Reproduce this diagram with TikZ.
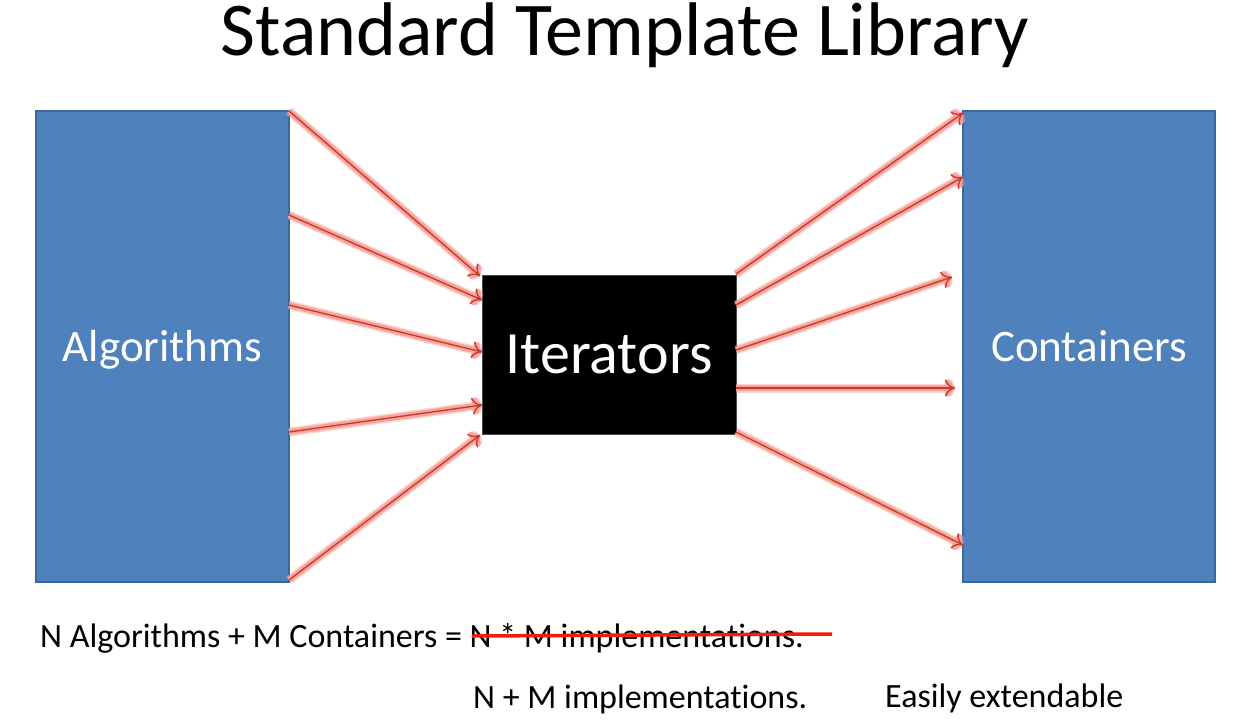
\documentclass[tikz,border=0pt]{standalone}
\usepackage{fontspec}
\setmainfont{Carlito}[Ligatures=NoCommon]
\usetikzlibrary{arrows.meta,calc}
\definecolor{boxblue}{HTML}{4F81BD}
\definecolor{boxedge}{HTML}{3A679C}
\definecolor{arrowred}{HTML}{C8372A}
\definecolor{glowred}{HTML}{F5A59C}
\definecolor{strikered}{HTML}{F01E0A}
\begin{document}
\begin{tikzpicture}[x=1pt,y=-1pt,
  box/.style={draw=boxedge, line width=2pt, fill=boxblue, inner sep=0pt, outer sep=0pt,
    text=white, font=\fontsize{45}{54}\selectfont, text height=29pt, text depth=0pt},
  itbox/.style={draw=black!70, line width=0.8pt, fill=black, inner sep=0pt, outer sep=0pt,
    text=white, font=\fontsize{60}{72}\selectfont, text height=38.6pt, text depth=0pt},
  flow/.style={draw=arrowred, line width=1.3pt, -{To[length=10pt,width=17pt]},
    preaction={draw=glowred, draw opacity=0.45, line width=9pt, -{To[length=10pt,width=17pt]}},
    preaction={draw=glowred, line width=6pt, -{To[length=10pt,width=17pt]}}},
  strike/.style={draw=strikered, line width=3.5pt},
  title/.style={font=\fontsize{76}{90}\selectfont, anchor=base, inner sep=0pt},
  body/.style={font=\fontsize{34}{40}\selectfont, anchor=base west, inner sep=0pt}]
\fill[white] (0,0) rectangle (1260,724);
\useasboundingbox (0,0) rectangle (1260,724);

\node[title] (ttl) at (625,55) {Standard Template Library};

\node[box, minimum width=253pt, minimum height=471pt] (alg) at (162.5,346.5) {Algorithms};
\node[box, minimum width=252pt, minimum height=471pt] (cont) at (1089,346.5) {Containers};
\node[itbox, minimum width=254pt, minimum height=159pt] (it) at (609,354.5) {Iterators};

% algorithms -> iterators
\draw[flow] (alg.north east) -- ($(it.north west)+(-2,1)$);
\draw[flow] ($(alg.north east)+(0,104)$) -- ($(it.north west)+(0,25)$);
\draw[flow] ($(alg.north east)+(0,194)$) -- ($(it.north west)+(0,77)$);
\draw[flow] ($(alg.north east)+(0,321)$) -- ($(it.north west)+(0,130)$);
\draw[flow] ($(alg.north east)+(0,469)$) -- ($(it.south west)+(-2,1)$);

% iterators -> containers
\draw[flow] ($(it.north east)+(0,-1)$) -- ($(cont.north west)+(0,2)$);
\draw[flow] ($(it.north east)+(0,30)$) -- ($(cont.north west)+(0,66)$);
\draw[flow] ($(it.north east)+(0,75)$) -- ($(cont.north west)+(-11,166)$);
\draw[flow] ($(it.north east)+(0,113)$) -- ($(cont.north west)+(-8,277)$);
\draw[flow] ($(it.south east)+(0,-2)$) -- ($(cont.north west)+(0,434)$);

\node[body] (eq) at (40,647) {N Algorithms + M Containers = N * M implementations.};
\coordinate (s1) at (472,636);
\coordinate (s2) at (832,634);
\draw[strike] (s1) -- (s2);

\node[body] (nm) at (473,708) {N + M implementations.};
\node[body] (ext) at (885,707) {Easily extendable};
\end{tikzpicture}
\end{document}
